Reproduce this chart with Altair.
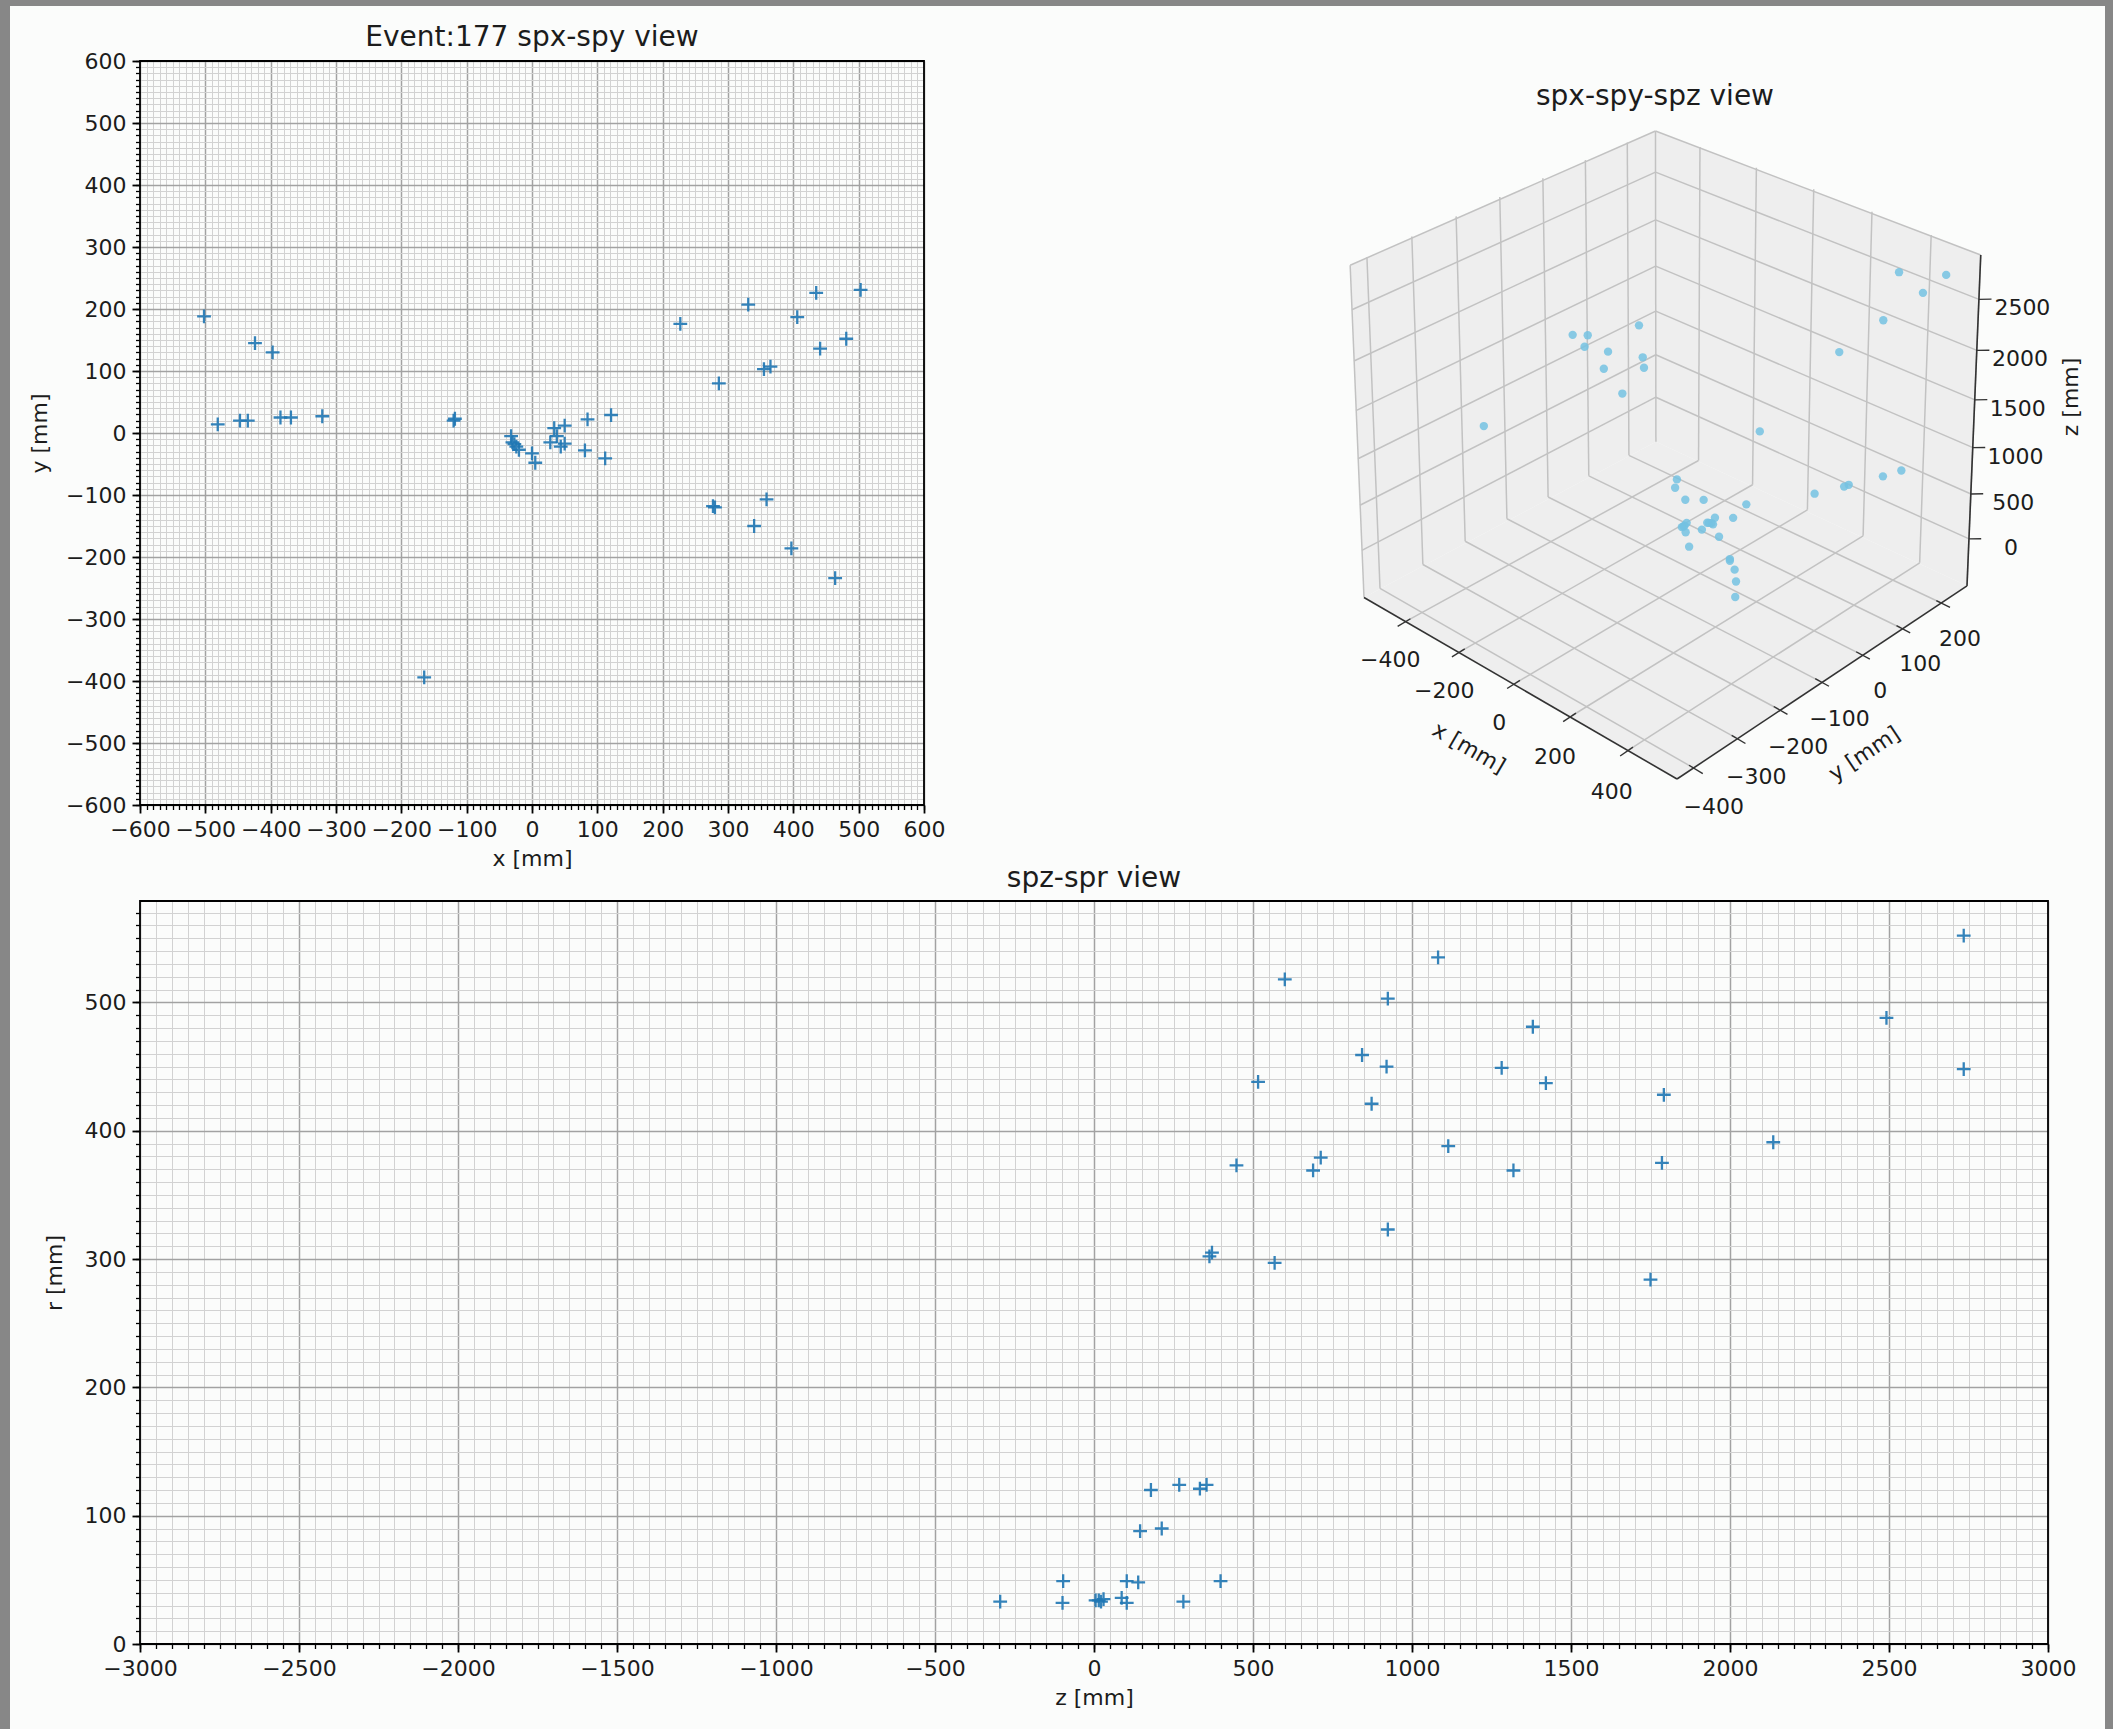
import altair as alt
import numpy as np
import pandas as pd

# ---------------- data ----------------
# each hit: x, y (xy view), z, r (z-r view)
hit_x = [503, -502, 464, 481, 435, -481, 441, -424, -447, 406, 397, -435, -165, -397, 331,
         -385, 365, 359, 340, 355, -369, -321, 277, 280, 286, 227, -120, -118, 121, 112,
         85, 81, -32, 50, -30, -24, -20, 28, 34, 38, 0, 5, 50, -27, 44]
hit_y = [231, 188, -234, 152, 226, 14, 136, 145, 20, 187, -186, 20, -394, 130, 207,
         25, 107, -107, -150, 103, 25, 27, -118, -120, 80, 176, 20, 23, 29, -41,
         22, -28, -5, 12, -15, -22, -27, -15, 8, -5, -33, -48, -17, -18, -22]
hit_z = [2735, 1082, 600, 924, 2492, 1380, 843, 920, 1282, 2735, 516, 1421, 1792, 873, 2136,
         1114, 713, 1786, 448, 689, 1319, 924, 371, 363, 568, 1750, 179, 268, 333, 354,
         145, 213, -295, -97, -99, 5, 15, 22, 30, 87, 103, 103, 139, 281, 398]
hit_r = [552, 535, 518, 503, 488, 481, 459, 450, 449, 448, 438, 437, 428, 421, 391,
         388, 379, 375, 373, 369, 369, 323, 305, 302, 297, 284, 120, 124, 121, 124,
         88, 90, 33, 49, 32, 34, 34, 33, 35, 36, 32, 49, 48, 33, 49]

xy_ticks = list(range(-600, 601, 100))
xy_minor = list(range(-600, 601, 10))
z_ticks = list(range(-3000, 3001, 500))
z_minor = list(range(-3000, 3001, 50))
r_ticks = [0, 100, 200, 300, 400, 500]
r_minor = list(range(0, 571, 10))
r_top = 579

ticks3d_x = [-400, -200, 0, 200, 400]
ticks3d_y = [-400, -300, -200, -100, 0, 100, 200]
ticks3d_z = [0, 500, 1000, 1500, 2000, 2500]
lim3d_x = (-560, 565)
lim3d_y = (-437, 268)
lim3d_z = (-540, 2920)

FONT = "DejaVu Sans"
TXT = "#1c1c1c"
BLUE = "#1f77b4"
BG = "#fbfcfb"
FRAME = "#878787"
CROSS = "M -1 0 L 1 0 M 0 -1 L 0 1"
TICK_FS = 22
TITLE_FS = 28

hits = pd.DataFrame({"x": hit_x, "y": hit_y, "z": hit_z, "r": hit_r})
one = pd.DataFrame({"k": [0]})

# plot-area origins in the 2113x1729 picture
TL_X, TL_Y, W_TL, H_TL = 140, 61, 784, 744
B_X, B_Y, W_B, H_B = 140, 901, 1908, 743


def major_axis(vals, orient, title, tpad):
    return alt.Axis(values=vals, orient=orient, title=title, format="d",
                    grid=True, gridColor="#a2a2a2", gridWidth=1.5,
                    domain=False, ticks=True, tickSize=8, tickWidth=1.8, tickColor="black",
                    labelFont=FONT, labelFontSize=TICK_FS, labelColor=TXT, labelPadding=6,
                    labelOverlap=False, labelFlush=False, labelBound=False,
                    titleFont=FONT, titleFontSize=TICK_FS, titleFontWeight="normal",
                    titleColor=TXT, titlePadding=tpad)


def minor_axis(vals, orient):
    return alt.Axis(values=vals, orient=orient, title=None, labels=False,
                    grid=True, gridColor="#d2d2d2", gridWidth=1.0,
                    domain=False, ticks=True, tickSize=4.5, tickWidth=1.3, tickColor="black")


def frame_layer(w, h):
    return alt.Chart(one).mark_rect(filled=False, color="black", strokeWidth=1.8).encode(
        x=alt.value(0), x2=alt.value(w), y=alt.value(0), y2=alt.value(h))


def title_text(text, cx, cy, size=TITLE_FS):
    return alt.Chart(one).mark_text(text=text, font=FONT, fontSize=size, color=TXT,
                                    align="center", baseline="middle").encode(
        x=alt.value(cx), y=alt.value(cy))


# ---------------- top-left: x-y view ----------------
sx_tl = alt.Scale(domain=[-600, 600], nice=False, zero=False)
sy_tl = alt.Scale(domain=[-600, 600], nice=False, zero=False)

tl_minor = alt.Chart(hits).mark_point(opacity=0).encode(
    x=alt.X("x:Q", scale=sx_tl, axis=minor_axis(xy_minor, "bottom")),
    y=alt.Y("y:Q", scale=sy_tl, axis=minor_axis(xy_minor, "left")))
tl_pts = alt.Chart(hits).mark_point(shape=CROSS, filled=False, size=190, strokeWidth=2.3,
                                    color=BLUE, opacity=0.9).encode(
    x=alt.X("x:Q", scale=sx_tl, axis=major_axis(xy_ticks, "bottom", "x [mm]", 8)),
    y=alt.Y("y:Q", scale=sy_tl, axis=major_axis(xy_ticks, "left", "y [mm]", 14)))
tl = alt.layer(tl_minor, tl_pts, frame_layer(W_TL, H_TL),
               title_text("Event:177 spx-spy view", 532 - TL_X, 38 - TL_Y)).resolve_axis(
    x="independent", y="independent")

# ---------------- 3D view (projected onto the picture) ----------------
E, A = np.radians(34.0), np.radians(-47.0)
DIST_V, DIST_U = 10.0, 25.0


def _norm(v, lim):
    return 2 * (np.asarray(v, float) - lim[0]) / (lim[1] - lim[0]) - 1


def _uv(x, y, z):
    X, Y, Z = _norm(x, lim3d_x), _norm(y, lim3d_y), _norm(z, lim3d_z)
    depth = np.cos(E) * np.cos(A) * X + np.cos(E) * np.sin(A) * Y + np.sin(E) * Z
    u = -np.sin(A) * X + np.cos(A) * Y
    v = -np.sin(E) * np.cos(A) * X - np.sin(E) * np.sin(A) * Y + np.cos(E) * Z
    return u * DIST_U / (DIST_U - depth), v * DIST_V / (DIST_V - depth)


x0, x1 = lim3d_x
y0, y1 = lim3d_y
z0, z1 = lim3d_z
uL, _ = _uv(x0, y0, z0)
uR, _ = _uv(x1, y1, z0)
_, vT = _uv(x0, y1, z1)
_, vF = _uv(x1, y0, z0)
# box corners in the picture: left-bottom x, right-bottom x, back-top y, front-bottom y
KX = (1967 - 1364) / (uR - uL)
OX = 1364 - TL_X - KX * uL
KY = (779 - 131) / (vT - vF)
OY = 131 - TL_Y + KY * vT


def proj3(x, y, z):
    u, v = _uv(x, y, z)
    return OX + KX * u, OY - KY * v


def seg_df(segs):
    rows = []
    for p, q in segs:
        a = proj3(*p)
        b = proj3(*q)
        rows.append({"x1": float(a[0]), "y1": float(a[1]), "x2": float(b[0]), "y2": float(b[1])})
    return pd.DataFrame(rows)


def poly_rows(name, corners):
    P = np.array([[float(c) for c in proj3(*c3)] for c3 in corners])
    xs = np.unique(P[:, 0])
    n = len(P)
    rows = []
    for xv in xs:
        ys = []
        for i in range(n):
            a, b = P[i], P[(i + 1) % n]
            lo, hi = min(a[0], b[0]), max(a[0], b[0])
            if hi - lo < 1e-9:
                if abs(xv - lo) < 1e-6:
                    ys += [a[1], b[1]]
                continue
            if lo - 1e-9 <= xv <= hi + 1e-9:
                t = (xv - a[0]) / (b[0] - a[0])
                ys.append(a[1] + t * (b[1] - a[1]))
        rows.append({"pane": name, "px": xv, "lo": min(ys), "hi": max(ys)})
    return rows


panes = pd.DataFrame(
    poly_rows("floor", [(x0, y0, z0), (x1, y0, z0), (x1, y1, z0), (x0, y1, z0)]) +
    poly_rows("wallx", [(x0, y0, z0), (x0, y1, z0), (x0, y1, z1), (x0, y0, z1)]) +
    poly_rows("wally", [(x0, y1, z0), (x1, y1, z0), (x1, y1, z1), (x0, y1, z1)]))

grid_segs = []
for t in ticks3d_x:
    grid_segs += [((t, y0, z0), (t, y1, z0)), ((t, y1, z0), (t, y1, z1))]
for t in ticks3d_y:
    grid_segs += [((x0, t, z0), (x1, t, z0)), ((x0, t, z0), (x0, t, z1))]
for t in ticks3d_z:
    grid_segs += [((x0, y0, t), (x0, y1, t)), ((x0, y1, t), (x1, y1, t))]
grid_segs += [((x0, y0, z1), (x0, y1, z1)), ((x0, y1, z1), (x1, y1, z1)),
              ((x0, y0, z0), (x0, y0, z1)), ((x0, y1, z0), (x0, y1, z1)),
              ((x1, y1, z0), (x1, y1, z1))]
grid_df = seg_df(grid_segs)

axis_df = seg_df([((x0, y0, z0), (x1, y0, z0)), ((x1, y0, z0), (x1, y1, z0)),
                  ((x1, y1, z0), (x1, y1, z1))])

xr, yr = x1 - x0, y1 - y0
tick_segs = []
for t in ticks3d_x:
    tick_segs.append(((t, y0 + 0.012 * yr, z0), (t, y0 - 0.03 * yr, z0)))
for t in ticks3d_y:
    tick_segs.append(((x1 - 0.012 * xr, t, z0), (x1 + 0.03 * xr, t, z0)))
for t in ticks3d_z:
    tick_segs.append(((x1, y1, t), (x1 + 0.02 * xr, y1 + 0.02 * yr, t)))
tick_df = seg_df(tick_segs)

lab_rows = []
for t in ticks3d_x:
    px, py = proj3(t, y0 - 41, z0 - 337)
    lab_rows.append({"px": float(px), "py": float(py), "t": t})
for t in ticks3d_y:
    px, py = proj3(x1 + 72, t, z0 - 300)
    lab_rows.append({"px": float(px), "py": float(py), "t": t})
for t in ticks3d_z:
    px, py = proj3(x1 + 110, y1 + 25, t)
    lab_rows.append({"px": float(px), "py": float(py), "t": t})
labels3d = pd.DataFrame(lab_rows)


def edge_angle(p, q):
    a, b = proj3(*p), proj3(*q)
    return float(np.degrees(np.arctan2(b[1] - a[1], b[0] - a[0]))) % 360


ang_x = edge_angle((x0, y0, z0), (x1, y0, z0))
ang_y = edge_angle((x1, y0, z0), (x1, y1, z0))
xt_px, xt_py = proj3(0, y0 - 111, z0 - 392)
yt_px, yt_py = proj3(x1 + 160, -100, z0 - 540)
zt_px, zt_py = proj3(x1 + 155, y1 + 125, 1450)

px3, py3 = proj3(hit_x, hit_y, hit_z)
pts3 = pd.DataFrame({"px": px3, "py": py3})

# identity pixel scales (relative to the top-left plot origin)
sx3 = alt.Scale(domain=[0, 2000], range=[0, 2000], nice=False, zero=False)
sy3 = alt.Scale(domain=[0, 2000], range=[0, 2000], nice=False, zero=False)


def rule3(df, color, width):
    return alt.Chart(df).mark_rule(color=color, strokeWidth=width).encode(
        x=alt.X("x1:Q", scale=sx3, axis=None), y=alt.Y("y1:Q", scale=sy3, axis=None),
        x2="x2:Q", y2="y2:Q")


def text3(df, size, angle=None, textfield="t:Q"):
    kw = dict(font=FONT, fontSize=size, color=TXT, align="center", baseline="middle")
    if angle is not None:
        kw["angle"] = angle
    txt = alt.Text(textfield, format="d") if textfield.endswith(":Q") else alt.Text(textfield)
    return alt.Chart(df).mark_text(**kw).encode(
        x=alt.X("px:Q", scale=sx3, axis=None), y=alt.Y("py:Q", scale=sy3, axis=None), text=txt)


pane_layer = alt.Chart(panes).mark_area(color="#eeeeee", opacity=1).encode(
    x=alt.X("px:Q", scale=sx3, axis=None),
    y=alt.Y("lo:Q", scale=sy3, axis=None, stack=None),
    y2="hi:Q", detail="pane:N")
pts_layer = alt.Chart(pts3).mark_circle(color="#74c2e2", opacity=0.85, size=70).encode(
    x=alt.X("px:Q", scale=sx3, axis=None), y=alt.Y("py:Q", scale=sy3, axis=None))

xt_df = pd.DataFrame({"px": [float(xt_px)], "py": [float(xt_py)], "s": ["x [mm]"]})
yt_df = pd.DataFrame({"px": [float(yt_px)], "py": [float(yt_py)], "s": ["y [mm]"]})
zt_df = pd.DataFrame({"px": [float(zt_px)], "py": [float(zt_py)], "s": ["z [mm]"]})

d3 = alt.layer(
    pane_layer,
    rule3(grid_df, "#c2c2c2", 1.5),
    rule3(axis_df, "#333333", 1.6),
    rule3(tick_df, "#333333", 1.4),
    pts_layer,
    text3(labels3d, TICK_FS),
    text3(xt_df, TICK_FS, ang_x, "s:N"),
    text3(yt_df, TICK_FS, ang_y, "s:N"),
    text3(zt_df, TICK_FS, 270, "s:N"),
    title_text("spx-spy-spz view", 1655 - TL_X, 97 - TL_Y),
)

top = alt.layer(tl, d3).resolve_scale(x="independent", y="independent").properties(
    width=W_TL, height=H_TL)

# ---------------- bottom: z-r view ----------------
sx_b = alt.Scale(domain=[-3000, 3000], nice=False, zero=False)
sy_b = alt.Scale(domain=[0, r_top], nice=False, zero=False)

b_minor = alt.Chart(hits).mark_point(opacity=0).encode(
    x=alt.X("z:Q", scale=sx_b, axis=minor_axis(z_minor, "bottom")),
    y=alt.Y("r:Q", scale=sy_b, axis=minor_axis(r_minor, "left")))
b_pts = alt.Chart(hits).mark_point(shape=CROSS, filled=False, size=190, strokeWidth=2.3,
                                   color=BLUE, opacity=0.9).encode(
    x=alt.X("z:Q", scale=sx_b, axis=major_axis(z_ticks, "bottom", "z [mm]", 8)),
    y=alt.Y("r:Q", scale=sy_b, axis=major_axis(r_ticks, "left", "r [mm]", 18)))


def border(xa, xb, ya, yb):
    # grey window border of the screenshot, relative to this panel's plot origin
    return alt.Chart(one).mark_rect(color=FRAME).encode(
        x=alt.value(xa - B_X), x2=alt.value(xb - B_X), y=alt.value(ya - B_Y), y2=alt.value(yb - B_Y))


bottom = alt.layer(
    b_minor, b_pts, frame_layer(W_B, H_B),
    title_text("spz-spr view", 1094 - B_X, 879 - B_Y),
    border(0, 10, 0, 1729), border(0, 2113, 0, 6), border(2105, 2113, 0, 1729),
).resolve_axis(x="independent", y="independent").properties(width=W_B, height=H_B)

chart = alt.vconcat(top, bottom, spacing=B_Y - TL_Y - H_TL, bounds="flush").properties(
    padding=0).configure(background=BG).configure_view(strokeWidth=0)

chart.save("out.html", embed_options={"renderer": "svg", "actions": False})
